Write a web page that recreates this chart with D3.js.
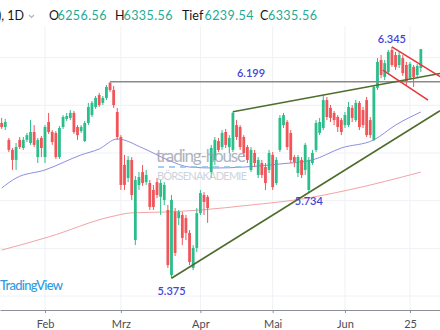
<!DOCTYPE html>
<html>
<head>
<meta charset="utf-8">
<script src="https://cdn.jsdelivr.net/npm/d3@7"></script>
<style>
body { margin: 0; background: #fff; }
svg { display: block; font-family: Lato, "Open Sans", sans-serif; }
</style>
</head>
<body>
<svg id="chart" width="440" height="330"></svg>
<script>

// daily candles, index 0 = first visible day
var opens = [6026,6009,5955,5913,5871,5955,5921,5955,5942,5988,
    5883,5963,5883,6030,5988,5984,5883,6009,6043,6047,
    6068,6009,5992,5950,6026,6059,6093,6143,6110,6131,
    6194,6164,6072,5967,5850,5795,5871,5535,5766,5820,
    5778,5774,5745,5778,5716,5703,5661,5388,5653,5627,
    5640,5627,5565,5418,5502,5648,5724,5716,5820,5871,
    5950,5925,5988,5925,5913,6017,6009,5967,5925,5829,
    5900,5808,5858,5841,5829,5892,5774,5913,6017,6030,
    5984,5883,5816,5871,5829,5745,5858,5913,5984,6005,
    6122,6089,6068,6051,6038,6017,6017,6089,6038,6110,
    6080,6122,6038,5955,6173,6290,6219,6240,6332,6311,
    6269,6298,6269,6214,6261,6227,6256.56];
var closes = [6009,6030,5913,5871,5925,5925,5955,5975,5988,5934,
    5955,5921,6009,5988,5946,5883,6005,6051,6055,6068,
    5988,5975,6009,6026,6093,6110,6131,6101,6131,6177,
    6164,6101,5967,5766,5766,5871,5724,5787,5799,5774,
    5808,5674,5674,5724,5774,5766,5430,5703,5481,5653,
    5544,5565,5443,5502,5648,5732,5695,5669,5921,5955,
    5913,5984,5934,5963,6068,5967,5925,5900,5871,5913,
    5858,5871,5808,5774,5900,5757,5871,6047,6059,5925,
    5871,5862,5883,5808,5934,5871,5900,6026,6030,6122,
    6051,6047,6038,6009,5988,6059,6093,6047,6110,6009,
    6017,5975,5975,6177,6282,6227,6277,6324,6269,6261,
    6311,6235,6198,6273,6219,6265,6335.56];
var highs = [6047,6043,5963,5921,5942,5967,5967,5984,6038,6017,
    5963,5971,6017,6068,5996,5992,6013,6059,6068,6080,
    6076,6017,6017,6034,6110,6118,6139,6152,6139,6185,
    6199,6181,6089,5975,5892,5887,5883,5804,5820,5850,
    5829,5787,5766,5795,5787,5778,5682,5724,5669,5661,
    5653,5640,5577,5514,5669,5745,5736,5724,5934,5967,
    5963,5996,6001,5975,6073,6038,6017,5975,5934,5925,
    5913,5883,5871,5858,5913,5904,5883,6059,6068,6038,
    5996,5892,5892,5883,5942,5883,5913,6038,6047,6143,
    6135,6101,6076,6059,6047,6072,6114,6101,6122,6118,
    6093,6135,6051,6185,6298,6311,6290,6332,6345,6324,
    6324,6311,6282,6282,6269,6273,6335.56];
var lows = [6001,5996,5904,5829,5829,5917,5913,5946,5934,5925,
    5858,5883,5858,5980,5934,5875,5875,6001,6034,6038,
    5980,5955,5984,5946,6017,6051,6085,6093,6101,6122,
    6156,6089,5955,5745,5745,5778,5703,5514,5745,5762,
    5766,5661,5661,5711,5640,5682,5418,5375,5468,5598,
    5514,5535,5430,5409,5485,5640,5640,5607,5795,5850,
    5904,5913,5921,5900,5904,5955,5913,5883,5858,5820,
    5841,5795,5795,5745,5816,5745,5766,5904,6005,5913,
    5858,5841,5799,5795,5808,5734,5850,5904,5975,5996,
    6038,6030,6017,5988,5975,6005,6009,6030,6030,5996,
    6005,5967,5963,5950,6164,6214,6206,6231,6261,6248,
    6256,6223,6185,6206,6177,6214,6239.54];

// moving averages at a few days
var ma50Days = [0, 4, 12, 22, 27, 32, 39, 46, 52, 59, 67, 77, 86, 94, 103, 109, 116];
var ma50Values = [5753, 5795, 5829, 5892, 5917, 5959, 5921, 5871, 5841, 5837, 5841, 5854, 5871, 5921, 5955, 6017, 6072];
var ma200Days = [0, 13, 30, 36, 46, 55, 69, 83, 96, 116];
var ma200Values = [5493, 5548, 5632, 5649, 5653, 5661, 5682, 5707, 5745, 5820];

var tickDays = [12, 33, 55, 75, 95, 113];
var tickLabels = ["Feb", "Mrz", "Apr", "Mai", "Jun", "25"];
var priceLevels = [5300, 5500, 5700, 5900, 6100, 6300, 6500];

// drawn analysis: [day, price]
var resistanceDay = 30, resistancePrice = 6199;
var upperTrend = [[64, 6073], [89, 6143]];
var lowerTrend = [[47, 5375], [85, 5734]];
var flagUpper = [[108, 6345], [121.3, 6220]];
var flagLower = [[105.5, 6248], [118, 6122]];
var pivotLabels = ["6.199", "6.345", "5.375", "5.734"];
var pivotDays = [69, 108, 47, 85];
var pivotPrices = [6199, 6345, 5375, 5734];

var headerKeys = ["O", "H", "Tief", "C"];
var headerValues = ["6256.56", "6335.56", "6239.54", "6335.56"];

var width = 440, height = 330, axisY = 310;
var upColor = "#2bbd8a", downColor = "#f0555a";

var svg = d3.select("#chart");
var x = d3.scaleLinear().domain([-0.45, 121.3]).range([0, width]);
var y = d3.scaleLinear().domain([5300, 6500]).range([296.1, 9.9]);

// grid
svg.append("g").selectAll("line").data(priceLevels).enter().append("line")
    .attr("x1", 0).attr("x2", width)
    .attr("y1", function(d) { return y(d); }).attr("y2", function(d) { return y(d); })
    .attr("stroke", "#eff1f5").attr("stroke-width", 1);
svg.append("g").selectAll("line").data(tickDays).enter().append("line")
    .attr("x1", function(d) { return x(d); }).attr("x2", function(d) { return x(d); })
    .attr("y1", 0).attr("y2", axisY)
    .attr("stroke", "#eff1f5").attr("stroke-width", 1);

// moving averages
var maLine = d3.line()
    .x(function(d) { return x(d[0]); })
    .y(function(d) { return y(d[1]); })
    .curve(d3.curveMonotoneX);
svg.append("path")
    .attr("d", maLine(d3.zip(ma200Days, ma200Values)))
    .attr("fill", "none").attr("stroke", "#f3a3a6").attr("stroke-width", 1);
svg.append("path")
    .attr("d", maLine(d3.zip(ma50Days, ma50Values)))
    .attr("fill", "none").attr("stroke", "#8c8ee0").attr("stroke-width", 1);

// candles
var candles = d3.range(opens.length).map(function(i) {
    return {i: i, o: opens[i], h: highs[i], l: lows[i], c: closes[i]};
});
var candle = svg.append("g").selectAll("g").data(candles).enter().append("g");
candle.append("line")
    .attr("x1", function(d) { return x(d.i); }).attr("x2", function(d) { return x(d.i); })
    .attr("y1", function(d) { return y(d.h); }).attr("y2", function(d) { return y(d.l); })
    .attr("stroke", function(d) { return d.c >= d.o ? upColor : downColor; })
    .attr("stroke-width", 1);
candle.append("rect")
    .attr("x", function(d) { return x(d.i) - 1.4; })
    .attr("width", 2.8)
    .attr("y", function(d) { return y(Math.max(d.o, d.c)); })
    .attr("height", function(d) { return Math.max(1, Math.abs(y(d.o) - y(d.c))); })
    .attr("fill", function(d) { return d.c >= d.o ? upColor : downColor; });

// watermark
var wm = svg.append("g").attr("opacity", 0.8);
wm.append("text").attr("x", 201).attr("y", 162).attr("text-anchor", "middle")
    .attr("font-size", 17).attr("fill", "#9aa1b0").attr("textLength", 90)
    .text("trading-house");
wm.append("line").attr("x1", 158).attr("x2", 246).attr("y1", 167).attr("y2", 167)
    .attr("stroke", "#8cc3ee").attr("stroke-width", 2).attr("stroke-dasharray", "6,5");
wm.append("text").attr("x", 157).attr("y", 180)
    .attr("font-size", 11).attr("fill", "#c3c9d3").attr("textLength", 90)
    .text("BÖRSENAKADEMIE");

// resistance line
svg.append("line")
    .attr("x1", x(resistanceDay)).attr("x2", width)
    .attr("y1", y(resistancePrice)).attr("y2", y(resistancePrice))
    .attr("stroke", "#8a8a8a").attr("stroke-width", 1.5);

function extendTo(pts, endDay) {
    var slope = (pts[1][1] - pts[0][1]) / (pts[1][0] - pts[0][0]);
    return [pts[0], [endDay, pts[0][1] + slope * (endDay - pts[0][0])]];
}
var straight = d3.line().x(function(d) { return x(d[0]); }).y(function(d) { return y(d[1]); });
var rightDay = x.domain()[1];
[upperTrend, lowerTrend].forEach(function(t) {
    svg.append("path").attr("d", straight(extendTo(t, rightDay)))
        .attr("fill", "none").attr("stroke", "#4f6d2c").attr("stroke-width", 1.6);
});
[flagUpper, flagLower].forEach(function(t) {
    svg.append("path").attr("d", straight(t))
        .attr("fill", "none").attr("stroke", "#e8353c").attr("stroke-width", 1.5);
});

// pivot labels
var labelShift = [-4.5, -3.5, 17, 12.5];
svg.append("g").selectAll("text").data(pivotLabels).enter().append("text")
    .attr("x", function(d, i) { return x(pivotDays[i]); })
    .attr("y", function(d, i) { return y(pivotPrices[i]) + labelShift[i]; })
    .attr("text-anchor", "middle")
    .attr("font-size", 11).attr("font-weight", 600).attr("fill", "#4343d6")
    .text(function(d) { return d; });

// x axis
var xAxis = d3.axisBottom(x)
    .tickValues(tickDays)
    .tickFormat(function(d, i) { return tickLabels[i]; })
    .tickSize(3).tickSizeOuter(0);
var ax = svg.append("g").attr("transform", "translate(0," + axisY + ")").call(xAxis);
ax.select(".domain").attr("stroke", "#8e9098");
ax.selectAll(".tick line").attr("stroke", "#8e9098");
ax.selectAll(".tick text").attr("font-family", "Lato, sans-serif").attr("font-size", 11)
    .attr("fill", "#4a4d55").attr("dy", "1.05em");

// TradingView mark
svg.append("text").attr("x", 0).attr("y", 290)
    .attr("font-size", 13).attr("font-weight", 500).attr("fill", "#2f9be0")
    .attr("textLength", 63)
    .text("TradingView");

// header
svg.append("rect").attr("x", 0).attr("y", 0).attr("width", width).attr("height", 26).attr("fill", "#fff");
svg.append("text").attr("x", -2).attr("y", 20).attr("font-size", 12.5).attr("fill", "#131722").text("), 1D");
svg.append("path").attr("d", "M29,15 L31.5,17.5 L34,15").attr("fill", "none")
    .attr("stroke", "#b0b3bb").attr("stroke-width", 1.2);
var keyX = [49, 115, 182, 260];
var valX = [57.5, 123.5, 204.5, 268];
headerKeys.forEach(function(k, i) {
    svg.append("text").attr("x", keyX[i]).attr("y", 20).attr("font-size", 12.5).attr("fill", "#131722").text(k);
    svg.append("text").attr("x", valX[i]).attr("y", 20).attr("font-size", 12.5).attr("fill", "#22ab94")
        .attr("textLength", 49).text(headerValues[i]);
});
</script>
</body>
</html>
